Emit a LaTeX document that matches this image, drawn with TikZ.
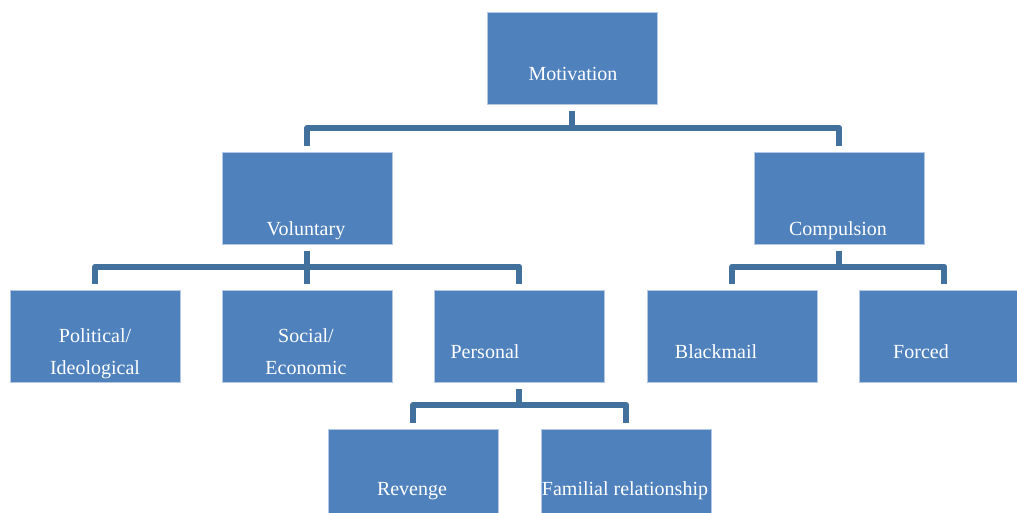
\documentclass[tikz,border=0pt]{standalone}
\usepackage{fontspec}
\setmainfont{Liberation Serif}
\definecolor{boxfill}{HTML}{4F81BD}
\definecolor{boxline}{HTML}{B4C7E7}
\definecolor{connc}{HTML}{41719C}
\begin{document}
\begin{tikzpicture}[x=1pt,y=-1pt,
  box/.style={draw=boxline, line width=0.8pt, fill=boxfill, minimum width=170pt, minimum height=92pt, inner sep=0pt, anchor=north west},
  lbl/.style={text=white, font=\fontsize{20}{32}\selectfont, anchor=base, inner sep=0pt, align=center},
  conn/.style={draw=connc, line width=6pt, line join=round}]
\clip (0,0) rectangle (1017,513);
\fill[white] (0,0) rectangle (1017,513);
% boxes
\node[box] (mot) at (487,12) {};
\node[box] (vol) at (222,152) {};
\node[box] (cmp) at (754,152) {};
\node[box] (pol) at (10,290) {};
\node[box] (soc) at (222,290) {};
\node[box] (per) at (434,290) {};
\node[box] (blk) at (647,290) {};
\node[box] (frc) at (859,290) {};
\node[box] (rev) at (328,429) {};
\node[box] (fam) at (541,429) {};
% levels of connectors
\coordinate (h1) at (0,128);
\coordinate (h2) at (0,266.5);
\coordinate (h3) at (0,405);
\draw[conn] ([yshift=-6pt]mot.south) -- (mot.south |- h1);
\draw[conn] ([yshift=6pt]vol.north) -- (vol.north |- h1) -- (cmp.north |- h1) -- ([yshift=6pt]cmp.north);
\draw[conn] ([yshift=-6pt]vol.south) -- (vol.south |- h2);
\draw[conn] ([yshift=6pt]soc.north) -- (soc.north |- h2);
\draw[conn] ([yshift=6pt]pol.north) -- (pol.north |- h2) -- (per.north |- h2) -- ([yshift=6pt]per.north);
\draw[conn] ([yshift=-6pt]cmp.south) -- (cmp.south |- h2);
\draw[conn] ([yshift=6pt]blk.north) -- (blk.north |- h2) -- (frc.north |- h2) -- ([yshift=6pt]frc.north);
\draw[conn] ([yshift=-6pt]per.south) -- (per.south |- h3);
\draw[conn] ([yshift=6pt]rev.north) -- (rev.north |- h3) -- (fam.north |- h3) -- ([yshift=6pt]fam.north);
% labels
\node[lbl] (tmot) at (573,81) {Motivation};
\node[lbl] (tvol) at (306,235) {Voluntary};
\node[lbl] (tcmp) at (838,235) {Compulsion};
\node[lbl] (tpol) at (95,374) {Political/\\Ideological};
\node[lbl] (tsoc) at (306,374) {Social/\\Economic};
\node[lbl] (tper) at (485,358) {Personal};
\node[lbl] (tblk) at (716,358) {Blackmail};
\node[lbl] (tfrc) at (921,358) {Forced};
\node[lbl] (trev) at (412,495) {Revenge};
\node[lbl] (tfam) at (625,495) {Familial relationship};
\end{tikzpicture}
\end{document}
